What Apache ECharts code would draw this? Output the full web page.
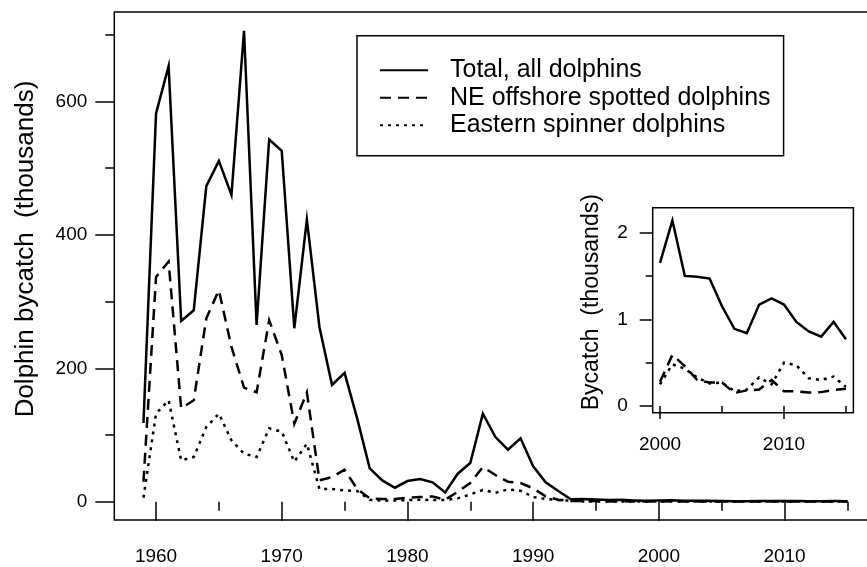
<!DOCTYPE html>
<html>
<head>
<meta charset="utf-8">
<script src="https://cdn.jsdelivr.net/npm/echarts@6/dist/echarts.min.js"></script>
<style>
  html, body { margin: 0; padding: 0; background: #fff; overflow: hidden; }
  #chart { width: 867px; height: 567px; }
</style>
</head>
<body>
<div id="chart"></div>
<script>
// Annual dolphin bycatch (thousands of animals), 1959-2015
const years = [
  1959, 1960, 1961, 1962, 1963, 1964, 1965, 1966, 1967, 1968,
  1969, 1970, 1971, 1972, 1973, 1974, 1975, 1976, 1977, 1978,
  1979, 1980, 1981, 1982, 1983, 1984, 1985, 1986, 1987, 1988,
  1989, 1990, 1991, 1992, 1993, 1994, 1995, 1996, 1997, 1998,
  1999, 2000, 2001, 2002, 2003, 2004, 2005, 2006, 2007, 2008,
  2009, 2010, 2011, 2012, 2013, 2014, 2015
];

const totalAll = [
  118, 582, 653, 271, 287, 473, 511, 460, 706, 265,
  543, 526, 260, 423, 262, 175, 193, 125, 50, 32,
  21, 31, 34, 29, 14, 42, 58, 132, 97, 78,
  95, 53, 29, 16, 3.6, 4.1, 3.3, 2.5, 3.0, 2.0,
  1.3, 1.65, 2.14, 1.50, 1.49, 1.47, 1.15, 0.89, 0.84, 1.17,
  1.24, 1.17, 0.97, 0.86, 0.80, 0.97, 0.77
];

const neSpotted = [
  30, 337, 360, 140, 152, 275, 317, 232, 171, 164,
  272, 220, 117, 164, 32, 37, 48, 19, 5, 4,
  4, 6, 7, 8, 3, 15, 28, 52, 40, 30,
  28, 20, 8, 3, 1.0, 0.9, 0.9, 0.5, 0.7, 0.3,
  0.35, 0.28, 0.59, 0.46, 0.30, 0.27, 0.27, 0.15, 0.18, 0.19,
  0.30, 0.17, 0.17, 0.155, 0.16, 0.185, 0.20
];

const eSpinner = [
  6, 132, 152, 62, 67, 112, 132, 92, 72, 67,
  110, 105, 60, 87, 19, 19, 17, 16, 3, 1.5,
  2, 2.5, 3, 2.5, 2.5, 5, 11, 17.5, 13.5, 18.5,
  16.5, 7, 4, 2.5, 1.5, 0.4, 0.4, 0.4, 0.4, 0.4,
  0.4, 0.25, 0.48, 0.43, 0.33, 0.26, 0.27, 0.17, 0.19, 0.33,
  0.25, 0.50, 0.47, 0.32, 0.30, 0.34, 0.22
];

const seriesNames = ['Total, all dolphins', 'NE offshore spotted dolphins', 'Eastern spinner dolphins'];

// Tick positions (labelled ticks are long, the in-between ones short)
const mainYearTicks = [1960, 1970, 1980, 1990, 2000, 2010];
const mainYearMinor = [1965, 1975, 1985, 1995, 2005, 2015];
const mainValueTicks = [0, 200, 400, 600];
const mainValueMinor = [100, 300, 500, 700];
const insetYearTicks = [2000, 2010];
const insetYearMinor = [2005, 2015];
const insetValueTicks = [0, 1, 2];
const insetValueMinor = [0.5, 1.5];
const insetStartYear = 2000;

const FONT = '"Liberation Sans", Arial, Helvetica, sans-serif';
const INK = '#000';

function pairs(values, fromYear) {
  const out = [];
  years.forEach((y, i) => { if (y >= fromYear) out.push([y, values[i]]); });
  return out;
}

const styles = [
  { type: 'solid', width: 2.5 },
  { type: [11, 7], width: 2.5 },
  { type: [3, 5], width: 2.5 }
];
const seriesValues = [totalAll, neSpotted, eSpinner];

const series = [];
seriesValues.forEach((vals, k) => {
  series.push({
    type: 'line', name: seriesNames[k], xAxisIndex: 0, yAxisIndex: 0,
    data: pairs(vals, years[0]), symbol: 'none', clip: false, silent: true,
    lineStyle: { color: INK, width: styles[k].width, type: styles[k].type, cap: 'butt', join: 'miter' },
    itemStyle: { color: INK }, z: 3 - k
  });
});
seriesValues.forEach((vals, k) => {
  series.push({
    type: 'line', name: seriesNames[k], xAxisIndex: 2, yAxisIndex: 2,
    data: pairs(vals, insetStartYear), symbol: 'none', clip: false, silent: true,
    lineStyle: { color: INK, width: styles[k].width, type: styles[k].type, cap: 'butt', join: 'miter' },
    itemStyle: { color: INK }, z: 3 - k
  });
});

const tickFont = { color: INK, fontFamily: FONT, fontSize: 19 };

// Main panel extents (years / thousands)
const mainX = [1956.68, 2016.56];
const mainY = [-27.4, 734.1];
// Inset panel extents
const insetX = [1999.41, 2015.6];
const insetY = [-0.0773, 2.287];

function axisPair(grid, ext, major, minor, majorLen, minorLen, margin, position) {
  const base = {
    type: 'value', gridIndex: grid, min: ext[0], max: ext[1], position: position,
    axisLine: { show: false }, splitLine: { show: false }
  };
  const a = Object.assign({}, base, {
    axisTick: { show: true, customValues: major, length: majorLen, lineStyle: { color: INK, width: 1.5 } },
    axisLabel: Object.assign({ customValues: major, margin: margin, formatter: v => String(v) }, tickFont)
  });
  const b = Object.assign({}, base, {
    axisTick: { show: true, customValues: minor, length: minorLen, lineStyle: { color: INK, width: 1.5 } },
    axisLabel: { show: false }
  });
  return [a, b];
}

const xAxes = [].concat(
  axisPair(0, mainX, mainYearTicks, mainYearMinor, 19, 9, 27, 'bottom'),
  axisPair(1, insetX, insetYearTicks, insetYearMinor, 13, 7, 23, 'bottom')
);
const yAxes = [].concat(
  axisPair(0, mainY, mainValueTicks, mainValueMinor, 19, 9, 27, 'left'),
  axisPair(1, insetY, insetValueTicks, insetValueMinor, 13, 7, 25, 'left')
);
Object.assign(yAxes[0], {
  name: 'Dolphin bycatch  (thousands)', nameLocation: 'middle', nameRotate: 90, nameGap: 75,
  nameTextStyle: { color: INK, fontFamily: FONT, fontSize: 26, padding: [0, 0, 0, 34] }
});
Object.assign(yAxes[2], {
  name: 'Bycatch  (thousands)', nameLocation: 'middle', nameRotate: 90, nameGap: 50,
  nameTextStyle: { color: INK, fontFamily: FONT, fontSize: 23, padding: [0, 0, 0, 16] }
});

const option = {
  animation: false,
  backgroundColor: '#fff',
  textStyle: { fontFamily: FONT, color: INK },
  grid: [
    { left: 114.3, top: 12, right: 0, bottom: 47 },
    { left: 652.7, top: 207.7, width: 200.7, height: 205 }
  ],
  xAxis: xAxes,
  yAxis: yAxes,
  legend: {
    data: seriesNames,
    orient: 'vertical',
    left: 357, top: 35.7,
    padding: [22, 13, 18, 22],
    borderColor: INK, borderWidth: 1.5,
    itemWidth: 48, itemHeight: 14, itemGap: 2.5,
    selectedMode: false,
    itemStyle: { opacity: 0 },
    textStyle: { color: INK, fontFamily: FONT, fontSize: 25, lineHeight: 25, padding: [0, 0, 0, 17] }
  },
  graphic: [
    { type: 'rect', silent: true, z: 10,
      shape: { x: 114.3, y: 12, width: 761, height: 508 },
      style: { fill: 'none', stroke: INK, lineWidth: 1.5 } },
    { type: 'rect', silent: true, z: 10,
      shape: { x: 652.7, y: 207.7, width: 200.7, height: 205 },
      style: { fill: 'none', stroke: INK, lineWidth: 1.5 } }
  ],
  series: series
};

const chart = echarts.init(document.getElementById('chart'), null, { renderer: 'canvas' });
chart.setOption(option);
</script>
</body>
</html>
